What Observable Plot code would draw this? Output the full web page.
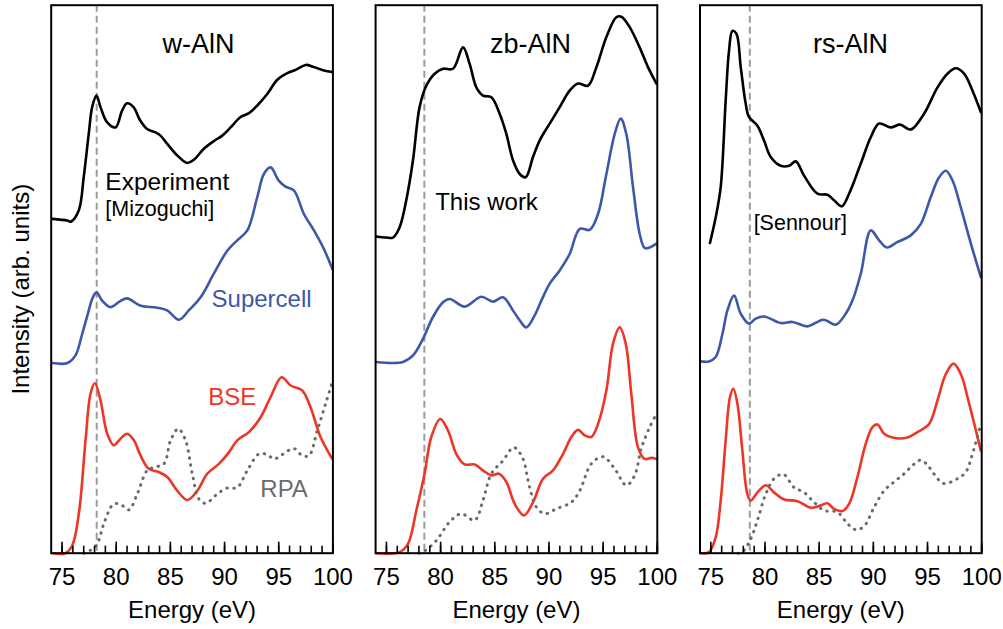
<!DOCTYPE html>
<html><head><meta charset="utf-8">
<script src="https://cdn.jsdelivr.net/npm/d3@7"></script>
<script src="https://cdn.jsdelivr.net/npm/@observablehq/plot@0.6"></script>
<style>body{margin:0;background:#fff}</style>
</head><body><div id="chart"></div>
<script>
// ---- categories / ticks ----
const panels = ["w-AlN", "zb-AlN", "rs-AlN"];
const xTickLabels = [75, 80, 85, 90, 95, 100];
const xMinorTicks = [75,76,77,78,79,80,81,82,83,84,85,86,87,88,89,90,91,92,93,94,95,96,97,98,99,100];
const edgeOnset = [78.2, 78.5, 78.6]; // dashed reference lines (eV), one per panel

// ---- w-AlN ----  [energy (eV), intensity (arb. units)]
const wExperiment = [[74.1,61.0],[75.48,60.7],[75.8,60.5],[76.55,62.6],[77.0,68.6],[77.47,76.6],[77.78,81.4],[78.18,83.5],[78.55,81.4],[79.17,78.6],[79.94,77.7],[80.55,80.8],[81.0,82.1],[81.6,81.4],[82.2,79.0],[82.86,77.4],[83.63,76.8],[84.09,76.2],[84.71,74.7],[85.63,72.6],[86.56,71.2],[87.17,71.8],[88.09,73.8],[89.01,75.2],[89.79,76.2],[90.56,77.7],[91.48,79.6],[92.25,80.3],[93.02,81.7],[93.94,83.8],[94.87,86.4],[95.79,87.6],[96.56,88.2],[97.48,89.1],[98.25,88.7],[99.17,88.1],[99.94,87.8]];
const wSupercell = [[74.1,34.7],[75.5,34.7],[76.24,36.1],[76.86,40.0],[77.47,44.3],[77.78,46.4],[78.18,47.6],[78.7,46.1],[79.48,44.9],[80.3,45.9],[81.0,46.5],[82.2,45.2],[83.78,44.8],[84.71,44.3],[85.78,42.6],[86.7,44.3],[87.79,46.7],[89.01,51.0],[90.25,55.2],[91.17,57.1],[92.1,58.9],[93.02,65.0],[93.63,69.2],[94.25,70.4],[95.0,68.0],[95.63,66.9],[96.4,66.2],[97.32,61.9],[98.25,58.9],[99.17,55.5],[99.94,51.9]];
const wBSE = [[74.1,0],[75.3,0],[75.94,1.4],[76.55,7.2],[77.17,20.6],[77.63,29.1],[78.03,31.0],[78.55,27.9],[79.17,21.8],[79.78,19.7],[80.4,20.9],[81.0,21.8],[81.63,20.6],[82.25,17.8],[83.0,15.4],[83.94,14.8],[84.71,13.9],[85.63,11.4],[86.56,9.7],[87.48,11.4],[88.4,14.5],[89.48,16.3],[90.4,18.4],[91.17,20.6],[92.25,22.1],[93.33,24.8],[94.25,28.5],[95.27,32.1],[96.1,30.6],[97.17,29.7],[97.94,26.6],[98.86,21.2],[99.94,17.2]];
const wRPA = [[77.0,0],[77.6,0.5],[78.25,1.7],[78.86,5.4],[79.78,9.0],[80.55,8.7],[81.17,7.9],[81.94,10.8],[82.86,15.1],[83.48,15.7],[84.4,16.3],[85.02,20.6],[85.73,22.7],[86.4,20.6],[87.02,14.5],[87.63,9.9],[88.25,9.1],[89.33,10.8],[90.25,11.9],[91.17,12.0],[92.1,15.1],[93.17,18.1],[93.94,18.0],[94.56,17.2],[95.33,18.0],[96.4,19.1],[97.17,17.8],[97.79,17.8],[98.56,22.4],[99.33,27.3],[99.94,31.2]];

// ---- zb-AlN ----
const zbExperiment = [[74.06,57.8],[74.99,57.6],[75.6,57.6],[76.22,59.5],[76.83,64.4],[77.45,71.7],[78.06,81.4],[78.68,85.3],[79.45,87.5],[80.22,88.4],[81.14,88.4],[82.07,92.3],[82.68,89.3],[83.3,85.0],[83.91,83.5],[84.68,83.2],[85.45,80.2],[86.07,76.5],[86.68,71.7],[87.3,69.2],[87.85,68.6],[88.53,72.3],[89.14,75.3],[90.07,78.4],[90.99,81.4],[91.91,84.4],[92.68,85.7],[93.6,85.3],[94.38,88.7],[95.3,94.2],[96.22,97.8],[96.68,97.9],[97.45,96.0],[98.37,92.3],[99.14,88.7],[99.92,85.7]];
const zbSupercell = [[74.06,34.9],[76.52,34.9],[77.45,36.1],[78.37,39.1],[79.29,43.1],[80.22,45.8],[80.83,46.4],[82.22,45.0],[83.76,46.8],[84.83,45.9],[85.76,46.7],[86.68,44.3],[87.3,42.5],[87.91,41.2],[88.68,43.4],[89.3,46.1],[90.07,49.2],[90.99,51.6],[91.91,54.6],[92.84,59.2],[93.76,59.0],[94.53,61.9],[95.3,69.2],[96.07,76.5],[96.62,79.3],[97.14,76.5],[97.76,66.8],[98.37,58.3],[98.83,55.7],[99.3,55.8],[99.92,56.5]];
const zbBSE = [[74.06,0],[76.22,0.2],[76.99,1.7],[77.76,7.8],[78.52,14.5],[79.14,21.2],[79.97,24.5],[80.68,22.4],[81.45,18.1],[82.22,16.2],[83.14,16.2],[83.91,15.1],[84.68,14.2],[85.39,14.5],[86.07,13.0],[86.84,9.0],[87.7,6.9],[88.53,9.3],[89.45,13.6],[90.37,15.1],[91.29,18.1],[92.07,21.2],[92.68,22.5],[93.3,21.5],[93.91,21.2],[94.53,23.6],[95.3,29.7],[95.91,38.2],[96.53,41.2],[97.09,38.2],[97.6,29.1],[98.22,19.3],[98.83,17.2],[99.45,17.4],[99.92,17.2]];
const zbRPA = [[78.0,0],[78.37,0.2],[79.6,2.3],[80.83,5.7],[81.91,7.2],[83.14,6.0],[83.91,9.6],[84.68,14.5],[85.76,16.9],[86.74,19.3],[87.54,17.5],[88.22,12.0],[88.84,8.4],[89.61,7.2],[90.68,8.1],[92.07,9.3],[92.84,11.4],[93.91,16.3],[94.99,17.6],[96.07,15.4],[97.14,12.4],[97.91,14.2],[98.52,19.1],[99.3,23.0],[99.92,25.4]];

// ---- rs-AlN ----
const rsExperiment = [[74.92,56.6],[75.45,61.3],[75.91,66.8],[76.37,82.6],[76.68,91.7],[76.99,95.3],[77.36,94.8],[77.76,88.7],[78.22,82.0],[78.52,79.6],[79.3,78.0],[79.91,75.3],[80.53,72.3],[81.45,70.7],[82.22,70.7],[82.84,71.5],[83.6,68.9],[84.84,65.6],[85.76,65.4],[86.37,64.4],[87.08,63.3],[87.76,65.6],[88.84,71.1],[89.76,75.9],[90.53,78.4],[91.61,77.7],[92.47,78.2],[93.45,77.3],[94.68,80.2],[95.92,85.0],[96.84,87.5],[97.61,88.5],[98.38,87.5],[99.15,84.4],[99.92,80.5]];
const rsSupercell = [[74.06,35.0],[74.83,35.0],[75.45,35.8],[76.07,40.0],[76.53,44.3],[77.14,47.0],[77.76,43.7],[78.52,41.9],[79.14,42.8],[79.91,43.2],[81.45,42.0],[82.53,42.2],[83.92,41.4],[85.4,42.6],[86.53,41.7],[87.45,43.7],[88.07,46.1],[88.84,51.0],[89.76,58.9],[90.53,57.1],[91.24,55.8],[92.23,56.8],[93.45,58.0],[94.38,60.1],[95.3,65.0],[96.07,68.6],[96.69,69.8],[97.31,68.0],[98.07,63.1],[99.0,56.5],[99.92,50.4]];
const rsBSE = [[74.06,0],[74.83,0.2],[75.45,2.9],[75.91,9.6],[76.37,20.6],[76.77,28.5],[77.08,30.0],[77.45,27.3],[77.91,18.7],[78.37,10.8],[78.68,9.6],[79.3,11.1],[80.07,12.4],[80.83,11.1],[81.76,9.8],[82.99,9.5],[84.22,8.3],[84.99,8.6],[85.76,9.1],[86.37,8.1],[87.15,7.7],[87.76,9.0],[88.53,13.9],[89.3,20.0],[89.92,23.0],[90.38,23.5],[90.99,21.8],[91.76,21.1],[93.15,21.1],[94.07,22.1],[95.15,23.6],[95.92,27.9],[96.69,32.7],[97.4,34.6],[98.07,32.7],[98.84,27.3],[99.92,18.7]];
const rsRPA = [[77.5,0],[77.91,0.2],[78.68,2.6],[79.3,6.0],[80.07,10.8],[80.83,13.6],[81.7,14.4],[82.68,12.0],[83.6,11.1],[84.53,9.3],[85.45,7.8],[86.68,7.5],[87.61,5.4],[88.38,4.3],[89.14,4.9],[90.07,8.4],[90.99,11.4],[91.91,13.0],[92.84,14.5],[93.61,16.0],[94.38,17.0],[95.15,15.7],[95.92,13.6],[96.53,12.7],[97.76,13.6],[98.53,14.8],[99.15,18.1],[99.92,23.6]];

// ---- text ----
const seriesNames = ["Experiment", "Supercell", "BSE", "RPA"];
const titleTexts = ["w-AlN", "zb-AlN", "rs-AlN"];
const sourceTexts = ["Experiment", "[Mizoguchi]", "This work", "[Sennour]"];
const xLabel = "Energy (eV)";
const yLabel = "Intensity (arb. units)";

// ---- build tables ----
const curveSets = {
  "w-AlN": [wExperiment, wSupercell, wBSE, wRPA],
  "zb-AlN": [zbExperiment, zbSupercell, zbBSE, zbRPA],
  "rs-AlN": [rsExperiment, rsSupercell, rsBSE, rsRPA]
};
const rows = [];
for (const p of panels) {
  curveSets[p].forEach((pts, i) => {
    for (const [energy, intensity] of pts) rows.push({panel: p, name: seriesNames[i], energy, intensity});
  });
}
const refRows = panels.map((p, i) => ({panel: p, energy: edgeOnset[i]}));

const blue = "#3d58a8", red = "#ee3627", gray = "#6b6b6b";
const styleFor = {
  Experiment: {stroke: "#000", strokeWidth: 2.6},
  Supercell: {stroke: blue, strokeWidth: 2.6},
  BSE: {stroke: red, strokeWidth: 2.6},
  RPA: {stroke: gray, strokeWidth: 3, strokeDasharray: "0.5,6.5", strokeLinecap: "round"}
};

// annotation placement (in data coordinates)
const titles = panels.map((p, i) => ({panel: p, text: titleTexts[i], energy: [87.6, 88.3, 87.9][i], intensity: 91.2}));
const notes = [
  {panel: "w-AlN", text: sourceTexts[0], energy: 79.0, intensity: 66.2, size: 24.5, color: "#000"},
  {panel: "w-AlN", text: sourceTexts[1], energy: 79.0, intensity: 61.6, size: 21.5, color: "#000"},
  {panel: "w-AlN", text: seriesNames[1], energy: 88.8, intensity: 45.0, size: 24, color: blue},
  {panel: "w-AlN", text: seriesNames[2], energy: 88.5, intensity: 27.0, size: 24, color: red},
  {panel: "w-AlN", text: seriesNames[3], energy: 93.3, intensity: 10.2, size: 24, color: gray},
  {panel: "zb-AlN", text: sourceTexts[2], energy: 79.5, intensity: 62.7, size: 24, color: "#000"},
  {panel: "rs-AlN", text: sourceTexts[3], energy: 78.95, intensity: 58.9, size: 21.5, color: "#000"}
];

const marks = [
  Plot.ruleX(refRows, {x: "energy", fx: "panel", stroke: "#9c9c9c", strokeWidth: 2, strokeDasharray: "7,4"}),
  ...seriesNames.map(n => Plot.line(rows.filter(d => d.name === n), {
    x: "energy", y: "intensity", fx: "panel", curve: "catmull-rom", ...styleFor[n]
  })),
  Plot.ruleX(xMinorTicks, {x: d => d, stroke: "#000", strokeWidth: 1.6, insetTop: 541}),
  Plot.ruleX(xTickLabels, {x: d => d, stroke: "#000", strokeWidth: 1.6, insetTop: 537}),
  Plot.frame({stroke: "#000", strokeWidth: 2}),
  Plot.axisX({ticks: xTickLabels, tickSize: 0, tickPadding: 15, fontSize: 24, label: null, tickFormat: d => String(d)}),
  Plot.text(titles, {x: "energy", y: "intensity", fx: "panel", text: "text", fontSize: 27, lineAnchor: "bottom", textAnchor: "middle", fill: "#000"}),
  Plot.text(notes, {x: "energy", y: "intensity", fx: "panel", text: "text", fontSize: "size", fill: "color", lineAnchor: "bottom", textAnchor: "start"}),
  Plot.text(panels, {fx: d => d, text: () => xLabel, frameAnchor: "bottom", textAnchor: "middle", lineAnchor: "bottom", dy: 65, fontSize: 24, fill: "#000"}),
  Plot.text([panels[0]], {fx: d => d, text: () => yLabel, frameAnchor: "left", textAnchor: "middle", rotate: -90, lineAnchor: "bottom", dx: -22, dy: 10, fontSize: 24, fill: "#000"})
];

const chart = Plot.plot({
  width: 1003,
  height: 629,
  marginLeft: 50.7,
  marginRight: 21.8,
  marginTop: 4.7,
  marginBottom: 76.3,
  style: {fontFamily: "'Liberation Sans', Arial, Helvetica, sans-serif", fontSize: "24px", background: "#fff", color: "#000"},
  fx: {domain: panels, axis: null, paddingInner: 0.1316, paddingOuter: 0, round: false, label: null},
  x: {domain: [74, 100]},
  y: {domain: [0, 100], axis: null},
  color: {type: "identity"},
  marks
});
document.getElementById("chart").appendChild(chart);
</script>
</body></html>
